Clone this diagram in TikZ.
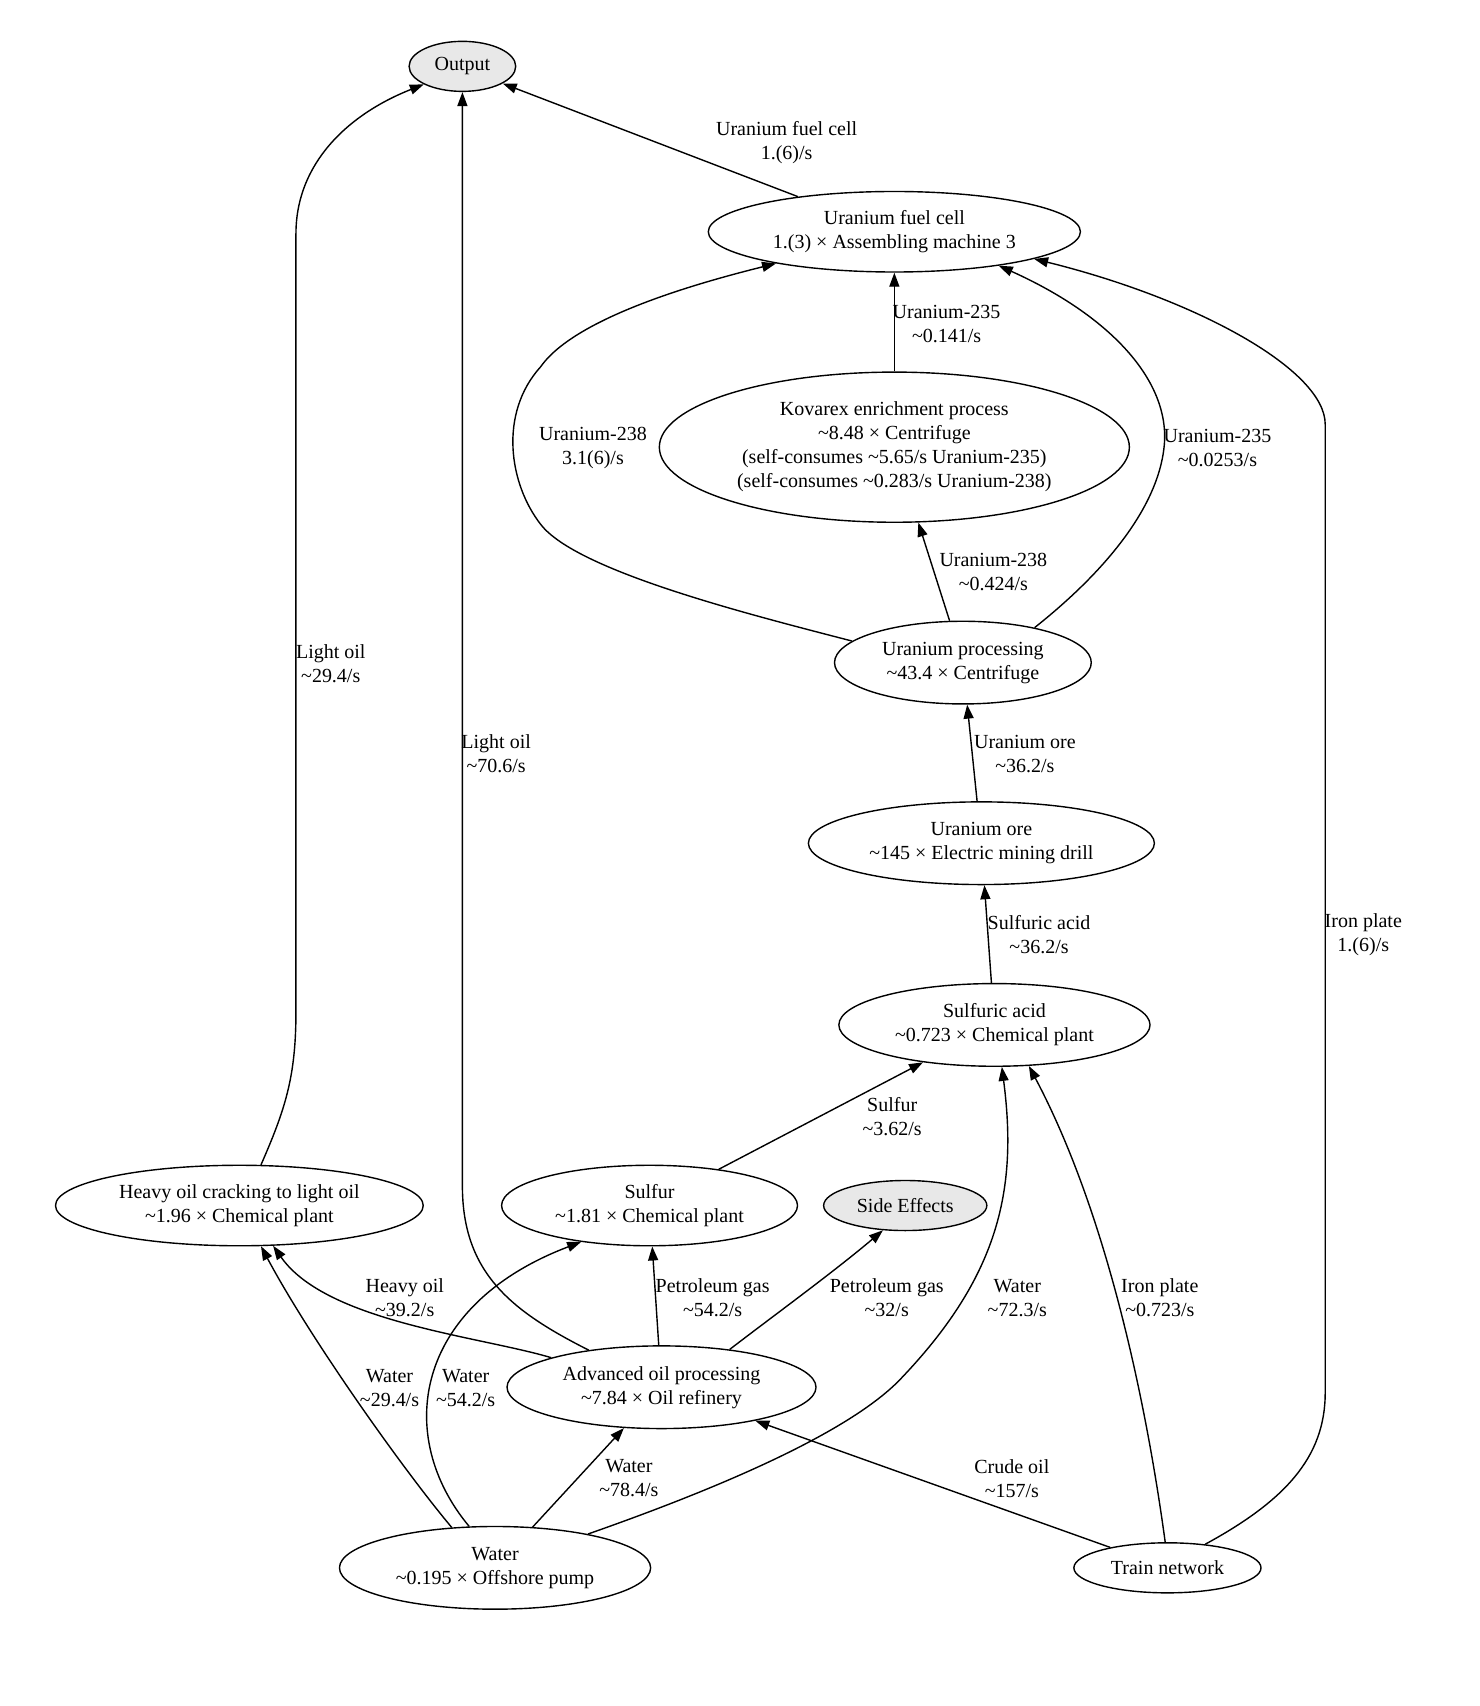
\documentclass[tikz,border=0pt]{standalone}
\usepackage{fontspec}
\setmainfont{Liberation Serif}
\usetikzlibrary{arrows.meta,shapes.geometric}
\newcommand\tl{\textasciitilde}
\newlength\ux
\setlength\ux{0.54412pt}
\begin{document}
\begin{tikzpicture}[x=0.54412pt,y=-0.54412pt,
 every node/.style={font=\fontsize{10}{12}\selectfont},
 box/.style={ellipse,draw,line width=0.7pt,inner sep=0pt,align=center},
 gbox/.style={box,fill=gray!18},
 lab/.style={align=center,inner sep=0pt,yshift=-1pt},
 arr/.style={line width=0.7pt,-{Triangle[length=7pt,width=5pt]}}]
\useasboundingbox (0,0) rectangle (1360,1568);

% nodes
\node[gbox,minimum width=98*\ux,minimum height=46*\ux] (out) at (425,61) {Output};
\node[box,minimum width=342*\ux,minimum height=74*\ux] (ufc) at (822,213) {Uranium fuel cell\\1.(3) × Assembling machine 3};
\node[box,minimum width=432*\ux,minimum height=138*\ux] (kov) at (822,411) {Kovarex enrichment process\\\tl8.48 × Centrifuge\\(self-consumes \tl5.65/s Uranium-235)\\(self-consumes \tl0.283/s Uranium-238)};
\node[box,minimum width=236*\ux,minimum height=76*\ux] (up) at (885,609) {Uranium processing\\\tl43.4 × Centrifuge};
\node[box,minimum width=318*\ux,minimum height=76*\ux] (ore) at (902,775) {Uranium ore\\\tl145 × Electric mining drill};
\node[box,minimum width=286*\ux,minimum height=76*\ux] (sa) at (914,942) {Sulfuric acid\\\tl0.723 × Chemical plant};
\node[box,minimum width=272*\ux,minimum height=74*\ux] (sul) at (597,1108) {Sulfur\\\tl1.81 × Chemical plant};
\node[gbox,minimum width=150*\ux,minimum height=46*\ux] (se) at (832,1108) {Side Effects};
\node[box,minimum width=338*\ux,minimum height=74*\ux] (hoc) at (220,1108) {Heavy oil cracking to light oil\\\tl1.96 × Chemical plant};
\node[box,minimum width=284*\ux,minimum height=76*\ux] (aop) at (608,1275) {Advanced oil processing\\\tl7.84 × Oil refinery};
\node[box,minimum width=286*\ux,minimum height=76*\ux] (wat) at (455,1441) {Water\\\tl0.195 × Offshore pump};
\node[box,minimum width=172*\ux,minimum height=46*\ux] (tn) at (1073,1441) {Train network};

% edges
\draw[arr] (ufc.160) -- (out.-23);
\draw[arr] (kov.north) -- (ufc.south);
\draw[arr] (up.169) .. controls (690,565) and (530,525) .. (497,482)
  .. controls (468,445) and (458,380) .. (497,337)
  .. controls (530,290) and (650,258) .. (ufc.-165);
\draw[arr] (up.26) .. controls (1010,530) and (1064,470) .. (1070,410)
  .. controls (1076,350) and (1020,290) .. (ufc.-18);
\draw[arr] (up) -- (kov);
\draw[arr] (ore) -- (up);
\draw[arr] (sa) -- (ore);
\draw[arr] (sul) -- (sa);
\draw[arr] (hoc.62) .. controls (262,1020) and (272,990) .. (272,930)
  -- (272,215) .. controls (272,150) and (320,105) .. (out.-155);
\draw[arr] (aop.153) .. controls (470,1205) and (425,1170) .. (425,1090) -- (out.south);
\draw[arr] (aop.165) .. controls (440,1228) and (300,1215) .. (hoc.-50);
\draw[arr] (aop) -- (sul);
\draw[arr] (aop.29) .. controls (710,1210) and (765,1170) .. (se.-132);
\draw[arr] (wat.137) .. controls (370,1350) and (285,1230) .. (hoc.-62);
\draw[arr] (wat.122) .. controls (362,1320) and (380,1200) .. (sul.-152);
\draw[arr] (wat) -- (aop);
\draw[arr] (wat.20) .. controls (640,1375) and (780,1320) .. (830,1265)
  .. controls (920,1170) and (935,1090) .. (sa.-80);
\draw[arr] (tn) -- (aop);
\draw[arr] (tn.95) .. controls (1055,1300) and (1020,1120) .. (sa.-50);
\draw[arr] (tn.32) .. controls (1180,1380) and (1218,1340) .. (1218,1280)
  -- (1218,390) .. controls (1218,340) and (1100,275) .. (ufc.-11);

% labels
\node[lab] (l1) at (723,129) {Uranium fuel cell\\1.(6)/s};
\node[lab] (l2) at (870,296) {Uranium-235\\\tl0.141/s};
\node[lab] (l3) at (545,410) {Uranium-238\\3.1(6)/s};
\node[lab] (l4) at (1119,410) {Uranium-235\\\tl0.0253/s};
\node[lab] (l5) at (913,524) {Uranium-238\\\tl0.424/s};
\node[lab] (l6) at (942,691) {Uranium ore\\\tl36.2/s};
\node[lab] (l7) at (955,857) {Sulfuric acid\\\tl36.2/s};
\node[lab] (l8) at (820,1024) {Sulfur\\\tl3.62/s};
\node[lab] (l9) at (304,608) {Light oil\\\tl29.4/s};
\node[lab] (l10) at (456,691) {Light oil\\\tl70.6/s};
\node[lab] (l11) at (372,1191) {Heavy oil\\\tl39.2/s};
\node[lab] (l12) at (655,1191) {Petroleum gas\\\tl54.2/s};
\node[lab] (l13) at (815,1191) {Petroleum gas\\\tl32/s};
\node[lab] (l14) at (358,1274) {Water\\\tl29.4/s};
\node[lab] (l15) at (428,1274) {Water\\\tl54.2/s};
\node[lab] (l16) at (578,1357) {Water\\\tl78.4/s};
\node[lab] (l17) at (935,1191) {Water\\\tl72.3/s};
\node[lab] (l18) at (930,1357) {Crude oil\\\tl157/s};
\node[lab] (l19) at (1066,1191) {Iron plate\\\tl0.723/s};
\node[lab] (l20) at (1253,857) {Iron plate\\1.(6)/s};
\end{tikzpicture}
\end{document}
